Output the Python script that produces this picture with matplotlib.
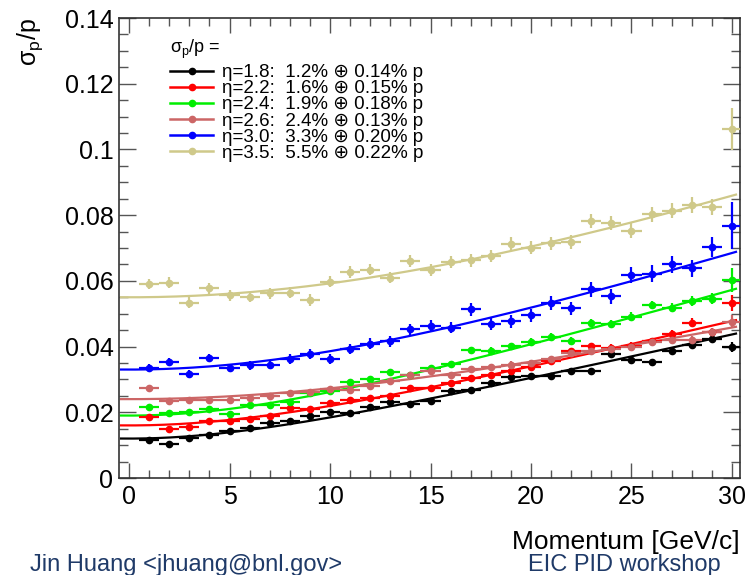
import numpy as np
import matplotlib
matplotlib.use("Agg")
import matplotlib.pyplot as plt
from matplotlib.lines import Line2D
from matplotlib.ticker import MultipleLocator

plt.rcParams['font.family'] = ['Liberation Sans', 'DejaVu Sans']
plt.rcParams['mathtext.default'] = 'regular'

# momentum bins (GeV/c)
p = np.arange(1, 31)

# sigma_p/p per eta bin
eta18 = [0.0117, 0.0105, 0.0122, 0.0130, 0.0144, 0.0153, 0.0168, 0.0175, 0.0189, 0.0200,
         0.0199, 0.0215, 0.0232, 0.0225, 0.0235, 0.0264, 0.0269, 0.0288, 0.0307, 0.0310,
         0.0310, 0.0327, 0.0327, 0.0378, 0.0360, 0.0352, 0.0387, 0.0406, 0.0424, 0.0399]
eta22 = [0.0186, 0.0148, 0.0156, 0.0174, 0.0174, 0.0179, 0.0189, 0.0214, 0.0209, 0.0228,
         0.0238, 0.0242, 0.0250, 0.0273, 0.0275, 0.0290, 0.0303, 0.0314, 0.0325, 0.0337,
         0.0357, 0.0386, 0.0401, 0.0396, 0.0402, 0.0416, 0.0437, 0.0473, 0.0443, 0.0532]
eta24 = [0.0215, 0.0197, 0.0202, 0.0210, 0.0195, 0.0222, 0.0222, 0.0230, 0.0258, 0.0265,
         0.0292, 0.0301, 0.0324, 0.0315, 0.0334, 0.0348, 0.0390, 0.0388, 0.0401, 0.0415,
         0.0429, 0.0416, 0.0473, 0.0468, 0.0491, 0.0527, 0.0518, 0.0538, 0.0546, 0.0602]
eta26 = [0.0273, 0.0235, 0.0236, 0.0236, 0.0238, 0.0245, 0.0251, 0.0259, 0.0263, 0.0270,
         0.0269, 0.0281, 0.0295, 0.0312, 0.0325, 0.0313, 0.0332, 0.0338, 0.0345, 0.0349,
         0.0361, 0.0380, 0.0386, 0.0392, 0.0399, 0.0413, 0.0420, 0.0420, 0.0445, 0.0476]
eta30 = [0.0335, 0.0353, 0.0317, 0.0365, 0.0335, 0.0343, 0.0345, 0.0362, 0.0377, 0.0362,
         0.0393, 0.0409, 0.0416, 0.0452, 0.0464, 0.0458, 0.0513, 0.0470, 0.0477, 0.0495,
         0.0532, 0.0516, 0.0574, 0.0553, 0.0617, 0.0622, 0.0651, 0.0638, 0.0702, 0.0768]
eta35 = [0.0590, 0.0595, 0.0534, 0.0577, 0.0556, 0.0551, 0.0562, 0.0564, 0.0542, 0.0598,
         0.0627, 0.0634, 0.0610, 0.0660, 0.0633, 0.0658, 0.0662, 0.0676, 0.0712, 0.0701,
         0.0714, 0.0718, 0.0782, 0.0776, 0.0753, 0.0802, 0.0814, 0.0832, 0.0825, 0.1062]

# vertical error bars
err18 = [0.0004, 0.0004, 0.0004, 0.0004, 0.0005, 0.0005, 0.0005, 0.0005, 0.0005, 0.0006,
         0.0006, 0.0006, 0.0006, 0.0006, 0.0007, 0.0007, 0.0007, 0.0007, 0.0008, 0.0008,
         0.0008, 0.0008, 0.0009, 0.0009, 0.0009, 0.0010, 0.0010, 0.0010, 0.0011, 0.0015]
err22 = [0.0005, 0.0005, 0.0005, 0.0005, 0.0005, 0.0006, 0.0006, 0.0006, 0.0006, 0.0007,
         0.0007, 0.0007, 0.0007, 0.0008, 0.0008, 0.0008, 0.0008, 0.0009, 0.0009, 0.0009,
         0.0010, 0.0010, 0.0010, 0.0011, 0.0011, 0.0011, 0.0012, 0.0013, 0.0013, 0.0024]
err24 = [0.0005, 0.0005, 0.0005, 0.0006, 0.0006, 0.0006, 0.0006, 0.0007, 0.0007, 0.0007,
         0.0008, 0.0008, 0.0008, 0.0009, 0.0009, 0.0009, 0.0010, 0.0010, 0.0010, 0.0011,
         0.0011, 0.0012, 0.0012, 0.0012, 0.0013, 0.0013, 0.0014, 0.0015, 0.0016, 0.0037]
err26 = [0.0006, 0.0006, 0.0006, 0.0006, 0.0006, 0.0006, 0.0007, 0.0007, 0.0007, 0.0007,
         0.0008, 0.0008, 0.0008, 0.0008, 0.0009, 0.0009, 0.0009, 0.0009, 0.0010, 0.0010,
         0.0010, 0.0011, 0.0011, 0.0011, 0.0012, 0.0012, 0.0012, 0.0013, 0.0013, 0.0020]
err30 = [0.0013, 0.0013, 0.0013, 0.0013, 0.0013, 0.0014, 0.0014, 0.0014, 0.0015, 0.0015,
         0.0015, 0.0016, 0.0016, 0.0017, 0.0017, 0.0018, 0.0019, 0.0019, 0.0020, 0.0020,
         0.0021, 0.0021, 0.0022, 0.0023, 0.0024, 0.0025, 0.0026, 0.0027, 0.0030, 0.0072]
err35 = [0.0016, 0.0016, 0.0016, 0.0016, 0.0016, 0.0016, 0.0016, 0.0016, 0.0017, 0.0017,
         0.0017, 0.0017, 0.0018, 0.0018, 0.0018, 0.0018, 0.0019, 0.0019, 0.0020, 0.0020,
         0.0020, 0.0021, 0.0021, 0.0022, 0.0022, 0.0023, 0.0023, 0.0024, 0.0025, 0.0065]

# fit results: sigma_p/p = a (+) b*p   (in %)
fit_a = [1.2, 1.6, 1.9, 2.4, 3.3, 5.5]
fit_b = [0.14, 0.15, 0.18, 0.13, 0.20, 0.22]
eta_labels = ['1.8', '2.2', '2.4', '2.6', '3.0', '3.5']
colors = ['black', '#ff0000', '#00ee00', '#cc6666', '#0000ff', '#cfc98a']

series = [eta18, eta22, eta24, eta26, eta30, eta35]
errors = [err18, err22, err24, err26, err30, err35]

xticks = [0, 5, 10, 15, 20, 25, 30]
yticks = [0, 0.02, 0.04, 0.06, 0.08, 0.1, 0.12, 0.14]
ytick_labels = ['0', '0.02', '0.04', '0.06', '0.08', '0.1', '0.12', '0.14']

fig = plt.figure(figsize=(7.47, 5.75), dpi=100)
ax = fig.add_axes([119/747, 1-478/575, 621/747, 460/575])

pf = np.linspace(-0.4, 30.2, 300)
handles = []
for y, e, a, b, c, eta in zip(series, errors, fit_a, fit_b, colors, eta_labels):
    ax.errorbar(p, y, xerr=0.5, yerr=e, fmt='o', ms=4.5, color=c,
                elinewidth=1.6, capsize=0, zorder=3)
    fit = np.sqrt((a/100)**2 + (b/100*pf)**2)
    ax.plot(pf, fit, color=c, lw=1.6, zorder=2)
    handles.append(Line2D([], [], color=c, lw=1.8, marker='o', ms=4.5,
                          label=f'η={eta}:  {a:.1f}% ⊕ {b:.2f}% p'))

ax.set_xlim(-0.5, 30.4)
ax.set_ylim(0, 0.14)
ax.set_xticks(xticks)
ax.set_yticks(yticks)
ax.set_yticklabels(ytick_labels)
ax.xaxis.set_minor_locator(MultipleLocator(1))
ax.yaxis.set_minor_locator(MultipleLocator(0.005))
ax.tick_params(axis='both', which='both', direction='in', top=True, right=True,
               labelsize=18, colors='#555555', labelcolor='black', width=1.0)
ax.tick_params(axis='x', which='major', length=11, pad=5)
ax.tick_params(axis='x', which='minor', length=5.5)
ax.tick_params(axis='y', which='major', length=12, pad=4)
ax.tick_params(axis='y', which='minor', length=6.5)
for s in ax.spines.values():
    s.set_color('#333333')
    s.set_linewidth(1.2)

ax.set_ylabel('σ$_{p}$/p', fontsize=18, loc='top')
ax.yaxis.set_label_coords(-0.143, 1.0)
ax.yaxis.label.set_va('center')
ax.set_xlabel('Momentum [GeV/c]', fontsize=19, loc='right')
ax.xaxis.set_label_coords(1.0, -0.154)
ax.xaxis.label.set_va('baseline')

leg = ax.legend(handles=handles, title='σ$_{p}$/p =', loc='upper left',
                bbox_to_anchor=(170/747, 1-38/575), bbox_transform=fig.transFigure,
                frameon=False, fontsize=13.5, title_fontsize=13, labelspacing=-0.05,
                handlelength=2.3, handletextpad=0.45, borderpad=0, borderaxespad=0)
leg._legend_box.align = 'left'
leg._legend_box.sep = 2

fig.text(30/747, 1-571/575, 'Jin Huang <jhuang@bnl.gov>', fontsize=17,
         color='#1f3a68', va='baseline', ha='left')
fig.text(624/747, 1-571/575, 'EIC PID workshop', fontsize=17,
         color='#1f3a68', va='baseline', ha='center')

fig.savefig('out.png', dpi=100)
